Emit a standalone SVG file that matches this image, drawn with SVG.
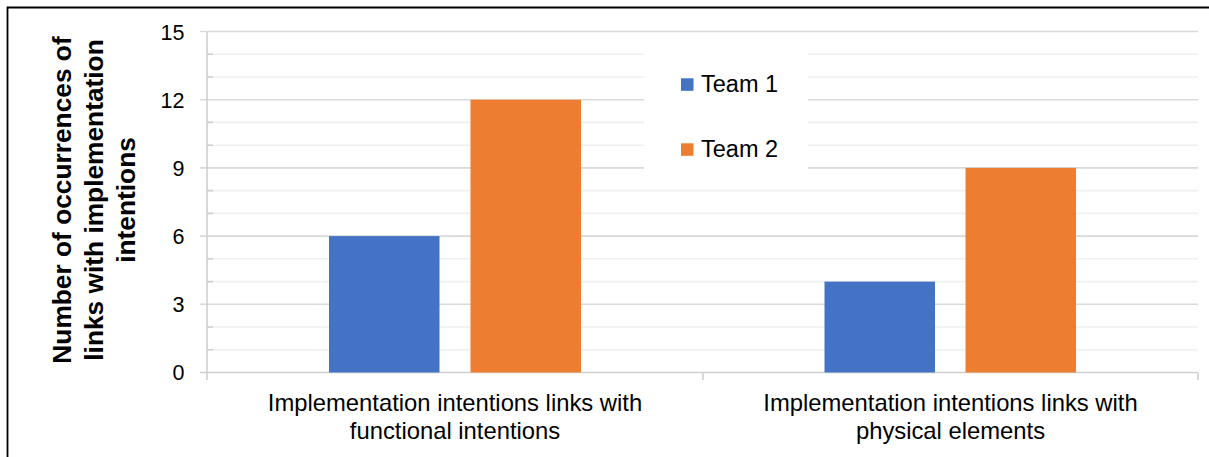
<svg xmlns="http://www.w3.org/2000/svg" width="1209" height="457" viewBox="0 0 1209 457">
  <style>
    text { font-family: "Liberation Sans", Arial, sans-serif; fill: #000; }
    .tick { font-size: 21.5px; text-anchor: end; }
    .cat { font-size: 23.8px; text-anchor: middle; }
    .leg { font-size: 23.5px; }
    .title { font-size: 26.3px; font-weight: bold; text-anchor: middle; }
    .major { stroke: #d9d9d9; stroke-width: 1.6; fill: none; }
    .minor { stroke: #f0f0f0; stroke-width: 1.6; fill: none; }
    .axis { stroke: #d0d0d0; stroke-width: 1.6; fill: none; }
    .t1 { fill: #4472c4; }
    .t2 { fill: #ed7d31; }
  </style>
  <rect x="0" y="0" width="1209" height="457" fill="#ffffff"/>
  <!-- outer frame (continues past the right and bottom edges) -->
  <path d="M7.5,457 V7.5 H1209" fill="none" stroke="#000" stroke-width="1.8"/>

  <!-- gridlines: minor every 1, major every 3 -->
  <g id="grid">
    <path class="minor" d="M207,54.2 H1198 M207,77 H1198 M207,122.4 H1198 M207,145.2 H1198 M207,190.6 H1198 M207,213.4 H1198 M207,258.8 H1198 M207,281.6 H1198 M207,327 H1198 M207,349.8 H1198"/>
    <path class="major" d="M200,31.5 H1198 M200,99.7 H1198 M200,167.9 H1198 M200,236.1 H1198 M200,304.3 H1198"/>
    <path class="axis" d="M207,54.2 H213 M207,77 H213 M207,122.4 H213 M207,145.2 H213 M207,190.6 H213 M207,213.4 H213 M207,258.8 H213 M207,281.6 H213 M207,327 H213 M207,349.8 H213"/>
  </g>

  <!-- axes -->
  <g id="axes">
    <path class="axis" d="M207,31.5 V380 M200,372.5 H1198 M703,372.5 V380 M1198,372.5 V380"/>
  </g>

  <!-- y tick labels -->
  <g id="y-ticks">
    <text class="tick" x="184.5" y="39.5">15</text>
    <text class="tick" x="184.5" y="107.5">12</text>
    <text class="tick" x="184.5" y="175.5">9</text>
    <text class="tick" x="184.5" y="243.5">6</text>
    <text class="tick" x="184.5" y="311.8">3</text>
    <text class="tick" x="184.5" y="380">0</text>
  </g>

  <!-- bars -->
  <g id="cat-functional">
    <rect class="t1" x="329" y="236.1" width="110.5" height="136.4"/>
    <rect class="t2" x="470.5" y="99.7" width="110.5" height="272.8"/>
    <text class="cat" x="455" y="411">Implementation intentions links with</text>
    <text class="cat" x="455" y="439">functional intentions</text>
  </g>
  <g id="cat-physical">
    <rect class="t1" x="824.5" y="281.6" width="110.5" height="90.9"/>
    <rect class="t2" x="965.5" y="167.9" width="110.5" height="204.6"/>
    <text class="cat" x="950.5" y="411">Implementation intentions links with</text>
    <text class="cat" x="950.5" y="439">physical elements</text>
  </g>

  <!-- legend -->
  <g id="legend">
    <rect x="644" y="35" width="164" height="143" fill="#ffffff"/>
    <rect class="t1" x="681" y="78.3" width="12.5" height="12.5"/>
    <text class="leg" x="701" y="91.7">Team 1</text>
    <rect class="t2" x="681" y="143.3" width="12.5" height="12.5"/>
    <text class="leg" x="701" y="156.7">Team 2</text>
  </g>

  <!-- y axis title -->
  <g id="y-title" transform="translate(0,200) rotate(-90)">
    <text class="title" x="0" y="71">Number of occurrences of</text>
    <text class="title" x="0" y="103">links with implementation</text>
    <text class="title" x="0" y="135">intentions</text>
  </g>
</svg>
